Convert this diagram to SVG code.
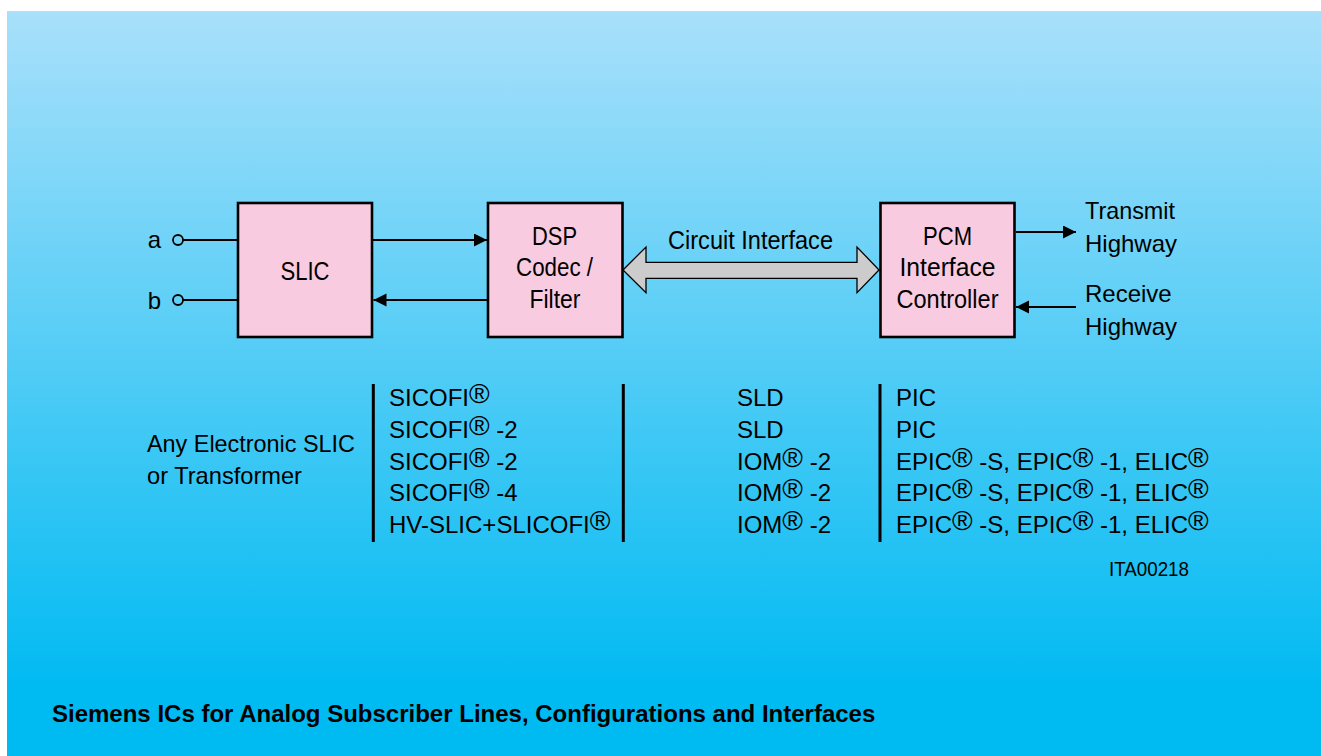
<svg xmlns="http://www.w3.org/2000/svg" width="1321" height="756" viewBox="0 0 1321 756">
<style>
text{font-family:"Liberation Sans",Arial,sans-serif;fill:#000}
.b{font-size:25px}
.l{font-size:24px}
.r{font-size:28px}
.box{fill:#F8CBE0;stroke:#000;stroke-width:2.6}
.w{stroke:#000;stroke-width:1.8;fill:none}
.bar{stroke:#000;stroke-width:3}
.title{font-size:24px;font-weight:bold}
</style>
<defs>
<linearGradient id="bg" gradientUnits="userSpaceOnUse" x1="0" y1="11" x2="0" y2="690">
<stop offset="0" stop-color="#A9E0FA"/>
<stop offset="1" stop-color="#00BAF2"/>
</linearGradient>
<marker id="ah" markerUnits="userSpaceOnUse" markerWidth="14" markerHeight="14" refX="13" refY="6.5" orient="auto">
<path d="M0,0 L13,6.5 L0,13 z" fill="#000"/>
</marker>
</defs>
<rect x="7" y="11" width="1314" height="745" fill="url(#bg)"/>

<g id="connectors">
<circle cx="178" cy="240" r="5" class="w" stroke-width="1.5"/>
<circle cx="178" cy="300" r="5" class="w" stroke-width="1.5"/>
<line x1="183" y1="240" x2="237" y2="240" class="w"/>
<line x1="183" y1="300" x2="237" y2="300" class="w"/>
<line x1="373" y1="240" x2="487" y2="240" class="w" marker-end="url(#ah)"/>
<line x1="487" y1="300" x2="373.5" y2="300" class="w" marker-end="url(#ah)"/>
<polygon points="623,270 646,247 646,262.3 857,262.3 857,247 879,270 857,292.7 857,278.3 646,278.3 646,292.7" fill="#CCCCCC" stroke="#000" stroke-width="1.3"/>
<line x1="1016" y1="232" x2="1076" y2="232" class="w" marker-end="url(#ah)"/>
<line x1="1076" y1="307" x2="1016" y2="307" class="w" marker-end="url(#ah)"/>
</g>

<g id="terminal-a"><text class="l" x="161" y="248" text-anchor="end">a</text></g>
<g id="terminal-b"><text class="l" x="161" y="309" text-anchor="end">b</text></g>

<g id="slic">
<rect class="box" x="238" y="203" width="134" height="134"/>
<text class="b" x="305" y="280" text-anchor="middle" textLength="49" lengthAdjust="spacingAndGlyphs">SLIC</text>
</g>

<g id="dsp">
<rect class="box" x="488" y="203" width="134.5" height="134"/>
<text class="b" x="554.5" y="245" text-anchor="middle" textLength="45" lengthAdjust="spacingAndGlyphs">DSP</text>
<text class="b" x="554.5" y="276" text-anchor="middle" textLength="77" lengthAdjust="spacingAndGlyphs">Codec /</text>
<text class="b" x="555" y="308" text-anchor="middle" textLength="51" lengthAdjust="spacingAndGlyphs">Filter</text>
</g>

<g id="circuit-interface-label">
<text class="b" x="750.5" y="249" text-anchor="middle" textLength="165" lengthAdjust="spacingAndGlyphs">Circuit Interface</text>
</g>

<g id="pcm">
<rect class="box" x="880.5" y="203" width="134" height="134"/>
<text class="b" x="947.5" y="245" text-anchor="middle" textLength="49" lengthAdjust="spacingAndGlyphs">PCM</text>
<text class="b" x="947.5" y="276" text-anchor="middle" textLength="96" lengthAdjust="spacingAndGlyphs">Interface</text>
<text class="b" x="947.5" y="308" text-anchor="middle" textLength="102" lengthAdjust="spacingAndGlyphs">Controller</text>
</g>

<g id="transmit">
<text class="l" x="1085" y="219.3" textLength="90" lengthAdjust="spacingAndGlyphs">Transmit</text>
<text class="l" x="1085" y="251.7">Highway</text>
</g>
<g id="receive">
<text class="l" x="1085" y="302">Receive</text>
<text class="l" x="1085" y="335">Highway</text>
</g>

<g id="list-slic">
<text class="l" x="147" y="452" textLength="208" lengthAdjust="spacingAndGlyphs">Any Electronic SLIC</text>
<text class="l" x="147" y="484" textLength="155" lengthAdjust="spacingAndGlyphs">or Transformer</text>
</g>

<g id="list-bars">
<line class="bar" x1="373.3" y1="384" x2="373.3" y2="542"/>
<line class="bar" x1="623.3" y1="384" x2="623.3" y2="542"/>
<line class="bar" x1="880" y1="384" x2="880" y2="542"/>
</g>

<g id="list-codec">
<text class="l" x="389" y="405.7">SICOFI<tspan class="r" dy="-3">®</tspan></text>
<text class="l" x="389" y="437.6">SICOFI<tspan class="r" dy="-3">®</tspan><tspan dy="3"> -2</tspan></text>
<text class="l" x="389" y="469.5">SICOFI<tspan class="r" dy="-3">®</tspan><tspan dy="3"> -2</tspan></text>
<text class="l" x="389" y="501.4">SICOFI<tspan class="r" dy="-3">®</tspan><tspan dy="3"> -4</tspan></text>
<text class="l" x="389" y="533.3">HV-SLIC+SLICOFI<tspan class="r" dy="-3">®</tspan></text>
</g>

<g id="list-interface">
<text class="l" x="737" y="405.7">SLD</text>
<text class="l" x="737" y="437.6">SLD</text>
<text class="l" x="737" y="469.5">IOM<tspan class="r" dy="-3">®</tspan><tspan dy="3"> -2</tspan></text>
<text class="l" x="737" y="501.4">IOM<tspan class="r" dy="-3">®</tspan><tspan dy="3"> -2</tspan></text>
<text class="l" x="737" y="533.3">IOM<tspan class="r" dy="-3">®</tspan><tspan dy="3"> -2</tspan></text>
</g>

<g id="list-controller">
<text class="l" x="896" y="469.5">EPIC<tspan class="r" dy="-3">®</tspan><tspan dy="3"> -S, EPIC</tspan><tspan class="r" dy="-3">®</tspan><tspan dy="3"> -1, ELIC</tspan><tspan class="r" dy="-3">®</tspan></text>
<text class="l" x="896" y="405.7">PIC</text>
<text class="l" x="896" y="437.6">PIC</text>
<text class="l" x="896" y="501.4">EPIC<tspan class="r" dy="-3">®</tspan><tspan dy="3"> -S, EPIC</tspan><tspan class="r" dy="-3">®</tspan><tspan dy="3"> -1, ELIC</tspan><tspan class="r" dy="-3">®</tspan></text>
<text class="l" x="896" y="533.3">EPIC<tspan class="r" dy="-3">®</tspan><tspan dy="3"> -S, EPIC</tspan><tspan class="r" dy="-3">®</tspan><tspan dy="3"> -1, ELIC</tspan><tspan class="r" dy="-3">®</tspan></text>
</g>

<g id="figure-id">
<text x="1109" y="575.7" font-size="20" textLength="80" lengthAdjust="spacingAndGlyphs">ITA00218</text>
</g>

<g id="caption">
<text class="title" x="52" y="722">Siemens ICs for Analog Subscriber Lines, Configurations and Interfaces</text>
</g>
</svg>
